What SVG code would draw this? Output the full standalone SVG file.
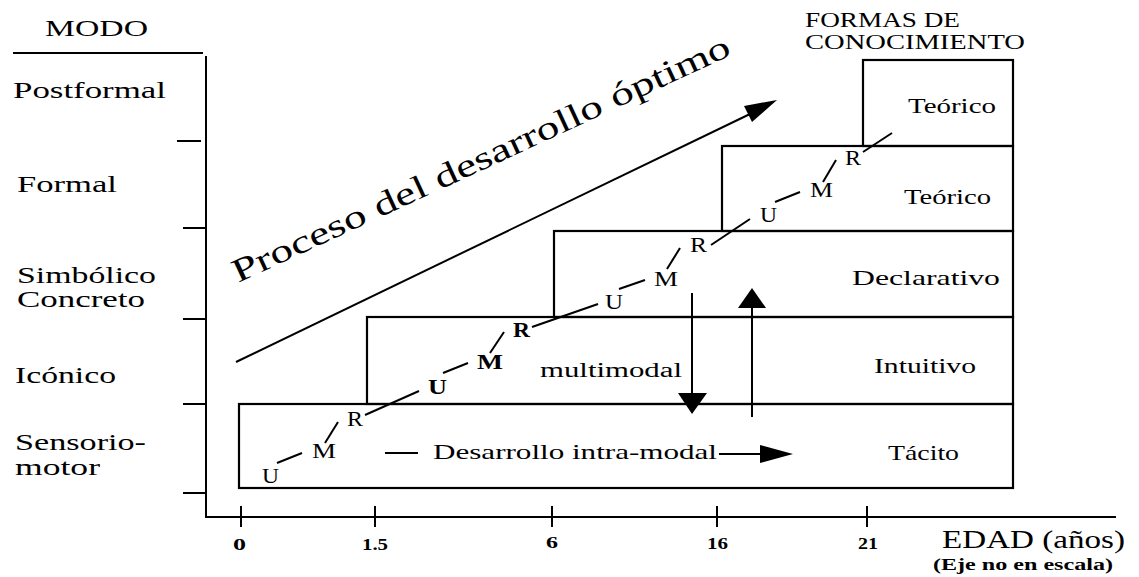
<svg xmlns="http://www.w3.org/2000/svg" width="1139" height="577" viewBox="0 0 1139 577">
<style>
.ln{stroke:#000;stroke-width:2;fill:none}
.bx{stroke:#000;stroke-width:2.2;fill:none}
.t{font-family:"Liberation Serif","Times New Roman",serif;fill:#000}
.lab{font-size:23px}
.kn{font-size:21px}
.urm{font-size:21px}
.b{font-weight:bold}
.tick{font-size:16px;font-weight:bold}
.ah{fill:#000;stroke:none}
</style>
<rect width="1139" height="577" fill="#fff"/>

<g id="axes">
  <line class="ln" x1="13" y1="53" x2="203" y2="53"/>
  <line class="ln" x1="206" y1="56" x2="206" y2="518"/>
  <line class="ln" x1="205" y1="517" x2="1116" y2="517"/>
  <line class="ln" x1="177" y1="141" x2="201" y2="141"/>
  <line class="ln" x1="183" y1="228" x2="206" y2="228"/>
  <line class="ln" x1="183" y1="319" x2="206" y2="319"/>
  <line class="ln" x1="183" y1="404" x2="206" y2="404"/>
  <line class="ln" x1="183" y1="493" x2="206" y2="493"/>
  <line class="ln" x1="241" y1="506" x2="241" y2="527"/>
  <line class="ln" x1="375" y1="506" x2="375" y2="527"/>
  <line class="ln" x1="552" y1="506" x2="552" y2="527"/>
  <line class="ln" x1="717" y1="506" x2="717" y2="527"/>
  <line class="ln" x1="867" y1="506" x2="867" y2="527"/>
  <text class="t tick" x="233" y="550" textLength="13" lengthAdjust="spacingAndGlyphs">0</text>
  <text class="t tick" x="362" y="550" textLength="26" lengthAdjust="spacingAndGlyphs">1.5</text>
  <text class="t tick" x="546" y="548" textLength="12" lengthAdjust="spacingAndGlyphs">6</text>
  <text class="t tick" x="707" y="549" textLength="21" lengthAdjust="spacingAndGlyphs">16</text>
  <text class="t tick" x="858" y="549" textLength="20" lengthAdjust="spacingAndGlyphs">21</text>
  <text class="t" x="942" y="548" font-size="25" textLength="183" lengthAdjust="spacingAndGlyphs">EDAD (años)</text>
  <text class="t b" x="933" y="570" font-size="16.5" textLength="180" lengthAdjust="spacingAndGlyphs">(Eje no en escala)</text>
</g>

<g id="modos">
  <text class="t lab" x="45" y="36" textLength="103" lengthAdjust="spacingAndGlyphs">MODO</text>
  <text class="t lab" x="13" y="98" textLength="153" lengthAdjust="spacingAndGlyphs">Postformal</text>
  <text class="t lab" x="17" y="192" textLength="100" lengthAdjust="spacingAndGlyphs">Formal</text>
  <text class="t lab" x="17" y="283" textLength="139" lengthAdjust="spacingAndGlyphs">Simbólico</text>
  <text class="t lab" x="17" y="307" textLength="128" lengthAdjust="spacingAndGlyphs">Concreto</text>
  <text class="t lab" x="15" y="383" textLength="101" lengthAdjust="spacingAndGlyphs">Icónico</text>
  <text class="t lab" x="15" y="450" textLength="131" lengthAdjust="spacingAndGlyphs">Sensorio-</text>
  <text class="t lab" x="15" y="475" textLength="85" lengthAdjust="spacingAndGlyphs">motor</text>
</g>

<g id="formas-titulo">
  <text class="t" x="805" y="27" font-size="20" textLength="155" lengthAdjust="spacingAndGlyphs">FORMAS DE</text>
  <text class="t" x="805" y="49" font-size="20" textLength="220" lengthAdjust="spacingAndGlyphs">CONOCIMIENTO</text>
</g>

<g id="tacito">
  <rect class="bx" x="239" y="404" width="774" height="84"/>
  <text class="t kn" x="888" y="460" textLength="71" lengthAdjust="spacingAndGlyphs">Tácito</text>
</g>
<g id="intuitivo">
  <rect class="bx" x="367" y="317" width="646" height="87"/>
  <text class="t kn" x="874" y="373" textLength="102" lengthAdjust="spacingAndGlyphs">Intuitivo</text>
</g>
<g id="declarativo">
  <rect class="bx" x="554" y="231" width="459" height="86"/>
  <text class="t kn" x="852" y="285" textLength="148" lengthAdjust="spacingAndGlyphs">Declarativo</text>
</g>
<g id="teorico1">
  <rect class="bx" x="722" y="146" width="291" height="85"/>
  <text class="t kn" x="904" y="204" textLength="87" lengthAdjust="spacingAndGlyphs">Teórico</text>
</g>
<g id="teorico2">
  <rect class="bx" x="863" y="60" width="150" height="86"/>
  <text class="t kn" x="908" y="113" textLength="88" lengthAdjust="spacingAndGlyphs">Teórico</text>
</g>

<g id="urm-letters">
  <text class="t urm" x="262" y="483" textLength="17" lengthAdjust="spacingAndGlyphs">U</text>
  <text class="t urm" x="312" y="458" textLength="24" lengthAdjust="spacingAndGlyphs">M</text>
  <text class="t urm" x="347" y="426" textLength="16" lengthAdjust="spacingAndGlyphs">R</text>
  <text class="t urm b" x="428" y="394" textLength="19" lengthAdjust="spacingAndGlyphs">U</text>
  <text class="t urm b" x="477" y="369" textLength="26" lengthAdjust="spacingAndGlyphs">M</text>
  <text class="t urm b" x="513" y="337" textLength="17" lengthAdjust="spacingAndGlyphs">R</text>
  <text class="t urm" x="605" y="309" textLength="18" lengthAdjust="spacingAndGlyphs">U</text>
  <text class="t urm" x="654" y="286" textLength="24" lengthAdjust="spacingAndGlyphs">M</text>
  <text class="t urm" x="690" y="252" textLength="17" lengthAdjust="spacingAndGlyphs">R</text>
  <text class="t urm" x="760" y="222" textLength="17" lengthAdjust="spacingAndGlyphs">U</text>
  <text class="t urm" x="810" y="197" textLength="23" lengthAdjust="spacingAndGlyphs">M</text>
  <text class="t urm" x="845" y="165" textLength="16" lengthAdjust="spacingAndGlyphs">R</text>
  <text class="t" x="540" y="377" font-size="20" textLength="142" lengthAdjust="spacingAndGlyphs">multimodal</text>
  <text class="t" x="433" y="459" font-size="21" textLength="284" lengthAdjust="spacingAndGlyphs">Desarrollo intra-modal</text>
  <text class="t" x="238" y="283" font-size="33" transform="rotate(-24.8 238 283)" textLength="545" lengthAdjust="spacingAndGlyphs">Proceso del desarrollo óptimo</text>
</g>

<g id="connectors">
  <line class="ln" x1="277" y1="463" x2="302" y2="453"/>
  <line class="ln" x1="325" y1="443" x2="338" y2="422"/>
  <line class="ln" x1="365" y1="415" x2="419" y2="391"/>
  <line class="ln" x1="443" y1="373" x2="468" y2="363"/>
  <line class="ln" x1="490" y1="353" x2="504" y2="332"/>
  <line class="ln" x1="532" y1="327" x2="598" y2="304"/>
  <line class="ln" x1="619" y1="289" x2="645" y2="280"/>
  <line class="ln" x1="667" y1="269" x2="680" y2="248"/>
  <line class="ln" x1="711" y1="245" x2="750" y2="219"/>
  <line class="ln" x1="775" y1="202" x2="800" y2="192"/>
  <line class="ln" x1="823" y1="182" x2="836" y2="160"/>
  <line class="ln" x1="863" y1="152" x2="892" y2="133"/>
  <line class="ln" x1="385" y1="453" x2="418" y2="453"/>
  <line class="ln" x1="719" y1="454" x2="762" y2="454"/>
  <polygon class="ah" points="760,445 793,454 760,463"/>
  <line class="ln" x1="692" y1="293" x2="692" y2="396"/>
  <polygon class="ah" points="678,393 707,393 692,414"/>
  <line class="ln" x1="752" y1="417" x2="752" y2="306"/>
  <polygon class="ah" points="738,308 766,308 752,288"/>
  <line class="ln" x1="236" y1="362" x2="750" y2="114"/>
  <polygon class="ah" points="777,100 752,122 744,106"/>
</g>
</svg>
